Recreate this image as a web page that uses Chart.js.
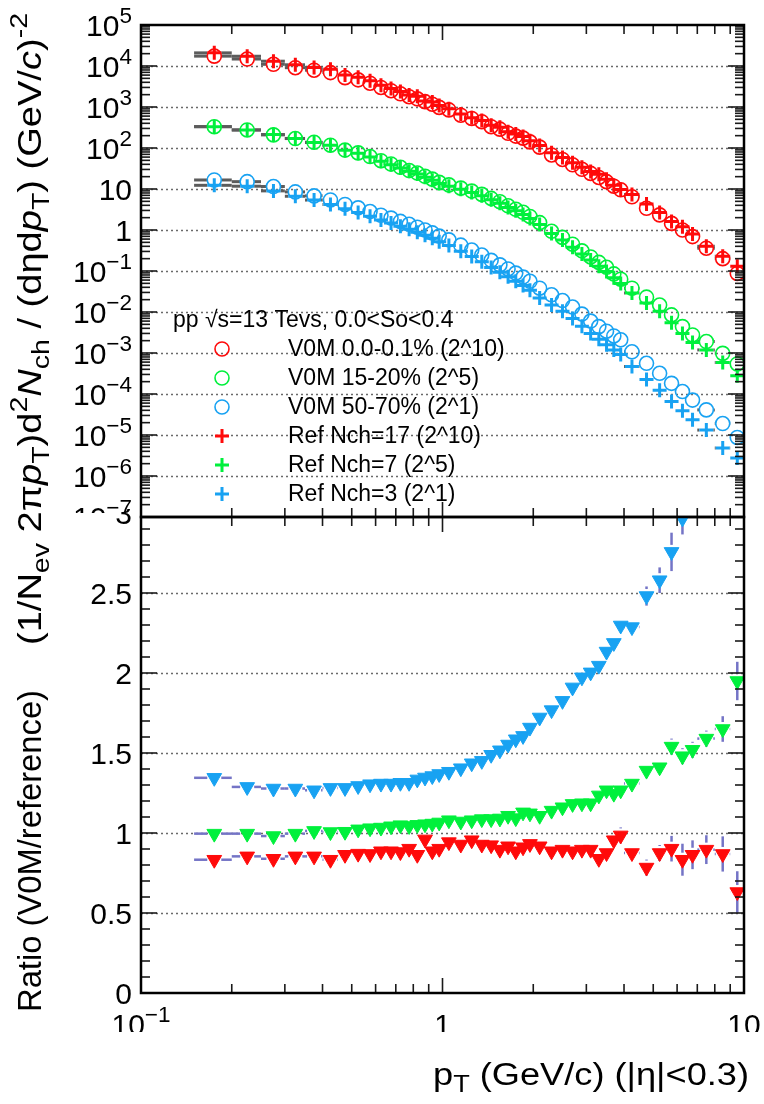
<!DOCTYPE html>
<html>
<head>
<meta charset="utf-8">
<script src="https://cdn.jsdelivr.net/npm/chart.js@4.4.0/dist/chart.umd.min.js"></script>
<style>
  body { margin: 0; background: #fff; }
  #wrap { position: relative; width: 764px; height: 1104px; }
  canvas { position: absolute; left: 0; top: 0; }
</style>
</head>
<body>
<div id="wrap">
  <canvas id="topPad" width="764" height="1104"></canvas>
  <canvas id="botPad" width="764" height="1104"></canvas>
</div>
<script>
// pT bins (GeV/c)
const ptEdges = [0.15,0.2,0.25,0.3,0.35,0.4,0.45,0.5,0.55,0.6,0.65,0.7,0.75,0.8,0.85,0.9,0.95,1.0,
  1.1,1.2,1.3,1.4,1.5,1.6,1.7,1.8,1.9,2.0,2.2,2.4,2.6,2.8,3.0,3.2,3.4,3.6,3.8,4.0,4.5,5.0,5.5,6.0,6.5,7.0,8.0,9.0,10.0];
const ptCenters = [0.175,0.225,0.275,0.325,0.375,0.425,0.475,0.525,0.575,0.625,0.675,0.725,0.775,0.825,0.875,0.925,0.975,
  1.05,1.15,1.25,1.35,1.45,1.55,1.65,1.75,1.85,1.95,2.1,2.3,2.5,2.7,2.9,3.1,3.3,3.5,3.7,3.9,4.25,4.75,5.25,5.75,6.25,6.75,7.5,8.5,9.5];

// spectra, V0M classes (open circles)
const v0mHigh = [17400,14800,11000,9100,7900,6900,5200,4600,3800,3000,2500,2100,1780,1580,1350,1170,980,
  850,630,525,437,331,288,229,195,174,141,105,67.6,52.5,38.9,30.2,24.0,19.1,15.1,11.7,9.55,6.46,3.39,2.34,1.45,1.0,0.69,0.36,0.2,0.087];
const v0mMid = [331,275,209,170,138,117,89,76,62,49,40.7,33.9,28.2,24.5,20.4,17.4,14.5,
  12.6,10.5,8.9,7.4,5.9,4.9,3.9,3.2,2.7,2.14,1.51,0.93,0.66,0.45,0.31,0.22,0.162,0.123,0.085,0.063,0.038,0.023,0.0148,0.0085,0.0044,0.00275,0.0019,0.00098,0.00054];
const v0mLow = [16.6,15.1,11.5,8.5,6.8,5.4,4.2,3.47,2.82,2.29,1.95,1.62,1.38,1.17,1.0,0.85,0.71,
  0.575,0.427,0.324,0.245,0.182,0.141,0.112,0.089,0.071,0.056,0.038,0.0263,0.019,0.0132,0.0089,0.006,0.0044,0.0034,0.0026,0.0021,0.00107,0.00056,0.00032,0.000182,0.000115,0.000071,0.000041,0.000019,0.0000087];

// spectra, reference Nch classes (crosses)
const refHigh = [20900,17300,13100,10700,9250,8280,6020,5280,4370,3390,2820,2380,1970,1830,1410,1320,1090,
  901,679,550,471,358,321,250,220,191,151,114.5,76.3,58.6,43.9,33.7,26.8,22.8,17.3,12.3,9.70,7.38,4.32,2.67,1.61,1.20,0.80,0.40,0.23,0.13];
const refMid = [332,276,213,171,136,116,88.3,74.3,60.2,47.4,39.1,32.3,27.0,23.3,19.3,16.4,13.6,
  11.7,9.8,8.24,6.81,5.43,4.49,3.52,2.93,2.39,1.91,1.36,0.816,0.568,0.381,0.261,0.186,0.131,0.097,0.068,0.0497,0.029,0.0165,0.0105,0.0055,0.00297,0.00181,0.00119,0.00059,0.000277];
const refLow = [12.3,11.7,9.0,6.65,5.37,4.21,3.28,2.68,2.16,1.75,1.49,1.23,1.05,0.876,0.742,0.627,0.519,
  0.416,0.304,0.226,0.169,0.122,0.093,0.072,0.056,0.044,0.0338,0.0221,0.0149,0.0104,0.0069,0.00451,0.0030,0.00215,0.00159,0.00119,0.000914,0.000468,0.000226,0.000124,0.000066,0.000039,0.0000234,0.0000132,0.0000048,0.00000275];

// ratios V0M / reference and their errors
const ratioHigh = [0.833,0.854,0.839,0.854,0.854,0.833,0.864,0.871,0.869,0.886,0.886,0.881,0.902,0.864,0.96,0.886,0.902,
  0.943,0.928,0.955,0.928,0.924,0.896,0.917,0.886,0.911,0.932,0.917,0.886,0.896,0.886,0.896,0.896,0.839,0.875,0.955,0.985,0.875,0.784,0.875,0.902,0.833,0.864,0.896,0.869,0.631];
const ratioMid = [0.996,0.996,0.981,0.996,1.013,1.006,1.008,1.023,1.03,1.034,1.042,1.049,1.044,1.051,1.055,1.059,1.066,
  1.08,1.072,1.08,1.087,1.087,1.091,1.108,1.093,1.129,1.123,1.108,1.14,1.161,1.182,1.186,1.186,1.235,1.267,1.246,1.267,1.309,1.39,1.411,1.54,1.48,1.52,1.59,1.65,1.95];
const ratioLow = [1.345,1.288,1.278,1.278,1.267,1.282,1.282,1.294,1.305,1.309,1.309,1.314,1.314,1.335,1.347,1.356,1.369,
  1.383,1.405,1.436,1.451,1.489,1.517,1.553,1.586,1.607,1.659,1.722,1.768,1.826,1.91,1.973,2.004,2.046,2.134,2.188,2.297,2.287,2.481,2.58,2.757,2.966,null,null,null,null];
const errHigh = [0.008,0.008,0.008,0.008,0.008,0.008,0.008,0.008,0.008,0.008,0.008,0.008,0.008,0.008,0.008,0.008,0.008,
  0.01,0.01,0.01,0.01,0.01,0.01,0.01,0.01,0.01,0.01,0.015,0.015,0.02,0.02,0.02,0.025,0.025,0.03,0.04,0.05,0.04,0.05,0.05,0.08,0.1,0.09,0.09,0.11,0.13];
const errMid = [0.006,0.006,0.006,0.006,0.006,0.006,0.006,0.006,0.006,0.006,0.006,0.006,0.006,0.006,0.006,0.006,0.006,
  0.008,0.008,0.008,0.008,0.008,0.008,0.008,0.008,0.008,0.008,0.01,0.01,0.012,0.012,0.015,0.015,0.02,0.02,0.025,0.03,0.03,0.035,0.04,0.05,0.05,0.05,0.05,0.08,0.12];
const errLow = [0.01,0.01,0.01,0.01,0.01,0.01,0.01,0.01,0.01,0.01,0.01,0.01,0.01,0.01,0.01,0.01,0.01,
  0.012,0.012,0.012,0.012,0.012,0.012,0.012,0.012,0.012,0.012,0.015,0.018,0.02,0.02,0.025,0.025,0.03,0.03,0.035,0.04,0.03,0.06,0.08,0.12,0.1,0,0,0,0];

const legendTitle = 'pp \u221As=13 Tevs, 0.0<So<0.4';
const legendLabels = ['V0M 0.0-0.1% (2^10)','V0M 15-20% (2^5)','V0M 50-70% (2^1)',
  'Ref Nch=17 (2^10)','Ref Nch=7 (2^5)','Ref Nch=3 (2^1)'];

const RED = '#ff0a0a', GREEN = '#00f03c', BLUE = '#18a2f2';
const FONT = '"Liberation Sans", Arial, Helvetica, sans-serif';
const GAP = 7; // error bars stop at the marker edge, like ROOT

// ---- rich text (sub/superscript, italic) ----
const T = t => ({t}), SUP = t => ({t, sup: true}), SUB = t => ({t, sub: true}), IT = t => ({t, it: true});
function segFont(s, size) {
  const sz = (s.sub || s.sup) ? size * 0.75 : size;
  return (s.it ? 'italic ' : '') + sz + 'px ' + FONT;
}
function richWidth(ctx, segs, size) {
  let w = 0;
  segs.forEach(s => { ctx.font = segFont(s, size); w += ctx.measureText(s.t).width; });
  return w;
}
// fit: optional target length, the text is stretched along its direction to that length
function drawRich(ctx, segs, x, y, size, align, fit) {
  const w0 = richWidth(ctx, segs, size);
  const k = fit ? fit / w0 : 1, w = w0 * k;
  let cx = align === 'right' ? x - w : align === 'center' ? x - w / 2 : x;
  ctx.save();
  ctx.translate(cx, y);
  ctx.scale(k, 1);
  ctx.textAlign = 'left';
  ctx.textBaseline = 'alphabetic';
  let off = 0;
  segs.forEach(s => {
    ctx.font = segFont(s, size);
    const dy = s.sup ? -0.42 * size : s.sub ? 0.24 * size : 0;
    ctx.fillText(s.t, off, dy);
    off += ctx.measureText(s.t).width;
  });
  ctx.restore();
}
function decade(n) {
  if (n === 0) return [T('1')];
  if (n === 1) return [T('10')];
  return [T('10'), SUP(n < 0 ? '\u2212' + (-n) : '' + n)];
}

// ---- ROOT-like frame pieces ----
function line(ctx, x1, y1, x2, y2) { ctx.beginPath(); ctx.moveTo(x1, y1); ctx.lineTo(x2, y2); ctx.stroke(); }

function drawGrid(chart, vals) {
  const {ctx, chartArea: a, scales: {y}} = chart;
  ctx.save();
  ctx.strokeStyle = '#6a6a6a'; ctx.lineWidth = 1.4; ctx.setLineDash([2, 3]);
  vals.forEach(v => { const py = Math.round(y.getPixelForValue(v)) + 0.5; line(ctx, a.left, py, a.right, py); });
  ctx.restore();
}

function drawBins(chart, vals, color, width, errs) {
  const {ctx, chartArea: a, scales: {x, y}} = chart;
  ctx.save();
  ctx.beginPath(); ctx.rect(a.left, a.top, a.right - a.left, a.bottom - a.top); ctx.clip();
  ctx.strokeStyle = color; ctx.lineWidth = width;
  vals.forEach((v, i) => {
    if (v == null) return;
    const px = x.getPixelForValue(ptCenters[i]), py = y.getPixelForValue(v);
    const xl = x.getPixelForValue(ptEdges[i]), xr = x.getPixelForValue(ptEdges[i + 1]);
    if (px - xl > GAP) line(ctx, xl, py, px - GAP, py);
    if (xr - px > GAP) line(ctx, px + GAP, py, xr, py);
    if (errs && errs[i]) {
      const yt = y.getPixelForValue(v + errs[i]), yb = y.getPixelForValue(v - errs[i]);
      if (py - yt > GAP) line(ctx, px, yt, px, py - GAP);
      if (yb - py > GAP) line(ctx, px, py + GAP, px, yb);
    }
  });
  ctx.restore();
}

function drawFrame(chart, yTicks) {
  const {ctx, chartArea: a, scales: {x, y}} = chart;
  ctx.save();
  ctx.strokeStyle = '#1a1a1a'; ctx.lineWidth = 1.6;
  const xt = [0.2,0.3,0.4,0.5,0.6,0.7,0.8,0.9,1,2,3,4,5,6,7,8,9];
  xt.forEach(v => {
    const px = x.getPixelForValue(v), len = v === 1 ? 15 : 9;
    line(ctx, px, a.top, px, a.top + len);
    line(ctx, px, a.bottom, px, a.bottom - len);
  });
  yTicks.forEach(([v, major]) => {
    const py = y.getPixelForValue(v), len = major ? 16 : 9;
    line(ctx, a.left, py, a.left + len, py);
    line(ctx, a.right, py, a.right - len, py);
  });
  ctx.strokeStyle = '#000'; ctx.lineWidth = 2.5;
  ctx.strokeRect(a.left, a.top, a.right - a.left, a.bottom - a.top);
  ctx.restore();
}

function spec(vals, color, style, order) {
  return {
    data: vals.map((v, i) => ({x: ptCenters[i], y: v})),
    pointStyle: style, pointRadius: 7, order,
    borderColor: color, backgroundColor: style === 'circle' ? 'rgba(0,0,0,0)' : color,
    borderWidth: style === 'circle' ? 1.6 : 3, pointBorderWidth: style === 'circle' ? 1.6 : 3
  };
}
function ratio(vals, color) {
  return {
    data: vals.map((v, i) => ({x: ptCenters[i], y: v})),
    pointStyle: 'triangle', rotation: 180, pointRadius: 8.5,
    borderColor: color, backgroundColor: color, borderWidth: 1
  };
}

// ---- top pad: spectra ----
const topPlugin = {
  id: 'topPad',
  beforeDatasetsDraw(chart) {
    const grid = [];
    for (let n = -6; n <= 4; n++) grid.push(Math.pow(10, n));
    drawGrid(chart, grid);
    [v0mHigh, refHigh, v0mMid, refMid, v0mLow, refLow].forEach(s => drawBins(chart, s, '#5c5c5c', 3));
  },
  afterDatasetsDraw(chart) {
    const {ctx, chartArea: a, scales: {y}} = chart;
    const ticks = [];
    for (let n = -7; n <= 4; n++) for (let k = 1; k <= 9; k++) ticks.push([k * Math.pow(10, n), k === 1]);
    drawFrame(chart, ticks);
    ctx.save();
    ctx.beginPath(); ctx.rect(0, 0, 764, 513); ctx.clip();
    ctx.fillStyle = '#000';
    for (let n = -7; n <= 5; n++) {
      const py = y.getPixelForValue(Math.pow(10, n));
      drawRich(ctx, decade(n), a.left - 9, py + 11, 30, 'right');
    }
    ctx.restore();
    // legend
    ctx.save();
    ctx.font = '23px ' + FONT; ctx.textAlign = 'left'; ctx.textBaseline = 'middle';
    ctx.fillStyle = '#000';
    ctx.fillText(legendTitle, 173, 321);
    const styles = [['circle', RED], ['circle', GREEN], ['circle', BLUE], ['cross', RED], ['cross', GREEN], ['cross', BLUE]];
    legendLabels.forEach((lab, i) => {
      const ly = 349 + i * 29;
      const [st, col] = styles[i];
      ctx.strokeStyle = col; ctx.fillStyle = st === 'circle' ? 'rgba(0,0,0,0)' : col;
      ctx.lineWidth = st === 'circle' ? 1.6 : 3;
      Chart.helpers.drawPoint(ctx, {pointStyle: st, radius: 7, rotation: 0, borderWidth: ctx.lineWidth}, 222, ly);
      ctx.fillStyle = '#000';
      ctx.fillText(lab, 288, ly + 1);
    });
    ctx.restore();
  }
};

new Chart(document.getElementById('topPad'), {
  type: 'scatter',
  data: {
    datasets: [
      spec(refHigh, RED, 'cross', 0), spec(refMid, GREEN, 'cross', 0), spec(refLow, BLUE, 'cross', 0),
      spec(v0mHigh, RED, 'circle', 1), spec(v0mMid, GREEN, 'circle', 1), spec(v0mLow, BLUE, 'circle', 1)
    ]
  },
  options: {
    responsive: false, animation: false,
    layout: {padding: {left: 141, right: 20, top: 25, bottom: 587}},
    plugins: {legend: {display: false}, tooltip: {enabled: false}},
    scales: {
      x: {type: 'logarithmic', min: 0.1, max: 10, display: false},
      y: {type: 'logarithmic', min: 1e-7, max: 1e5, display: false}
    }
  },
  plugins: [topPlugin]
});

// ---- bottom pad: ratios ----
const botPlugin = {
  id: 'botPad',
  beforeDatasetsDraw(chart) {
    drawGrid(chart, [0.5, 1, 1.5, 2, 2.5]);
    [[ratioLow, errLow], [ratioMid, errMid], [ratioHigh, errHigh]].forEach(([s, e]) => drawBins(chart, s, '#7474c6', 2.5, e));
  },
  afterDatasetsDraw(chart) {
    const {ctx, chartArea: a, scales: {x, y}} = chart;
    const ticks = [];
    for (let i = 0; i <= 29; i++) ticks.push([i / 10, i % 5 === 0]);
    drawFrame(chart, ticks);
    ctx.save();
    ctx.fillStyle = '#000';
    ctx.beginPath(); ctx.rect(0, 509, 764, 595); ctx.clip();
    ['0', '0.5', '1', '1.5', '2', '2.5', '3'].forEach((lab, i) => {
      const py = y.getPixelForValue(i * 0.5);
      drawRich(ctx, [T(lab)], a.left - 9, py + 11, 30, 'right');
    });
    ctx.restore();
    // x axis labels, cut at the pad edge as in the original
    ctx.save();
    ctx.fillStyle = '#000';
    ctx.beginPath(); ctx.rect(0, 0, 764, 1032); ctx.clip();
    [[0.1, decade(-1)], [1, decade(0)], [10, decade(1)]].forEach(([v, segs]) => {
      drawRich(ctx, segs, x.getPixelForValue(v), 1035, 30, 'center');
    });
    ctx.restore();
    ctx.save();
    ctx.fillStyle = '#000';
    drawRich(ctx, [T('p'), SUB('T'), T(' (GeV/c) (|\u03B7|<0.3)')], 749, 1085, 31, 'right', 316);
    // y titles
    ctx.translate(41, 0);
    ctx.rotate(-Math.PI / 2);
    drawRich(ctx, [T('Ratio (V0M/reference)')], -1012, 0, 33, 'left', 322);
    drawRich(ctx, [T('(1/N'), SUB('ev'), T(' 2\u03C0'), IT('p'), SUB('T'), T(')d'), SUP('2'), IT('N'), SUB('ch'),
      T(' / (d\u03B7d'), IT('p'), SUB('T'), T(') (GeV/'), IT('c'), T(')'), SUP('-2')], -13, 0, 33, 'right', 632);
    ctx.restore();
  }
};

new Chart(document.getElementById('botPad'), {
  type: 'scatter',
  data: {
    datasets: [ratio(ratioHigh, RED), ratio(ratioMid, GREEN), ratio(ratioLow, BLUE)]
  },
  options: {
    responsive: false, animation: false,
    layout: {padding: {left: 141, right: 20, top: 517, bottom: 111}},
    plugins: {legend: {display: false}, tooltip: {enabled: false}},
    scales: {
      x: {type: 'logarithmic', min: 0.1, max: 10, display: false},
      y: {type: 'linear', min: 0, max: 2.975, display: false}
    }
  },
  plugins: [botPlugin]
});
</script>
</body>
</html>
